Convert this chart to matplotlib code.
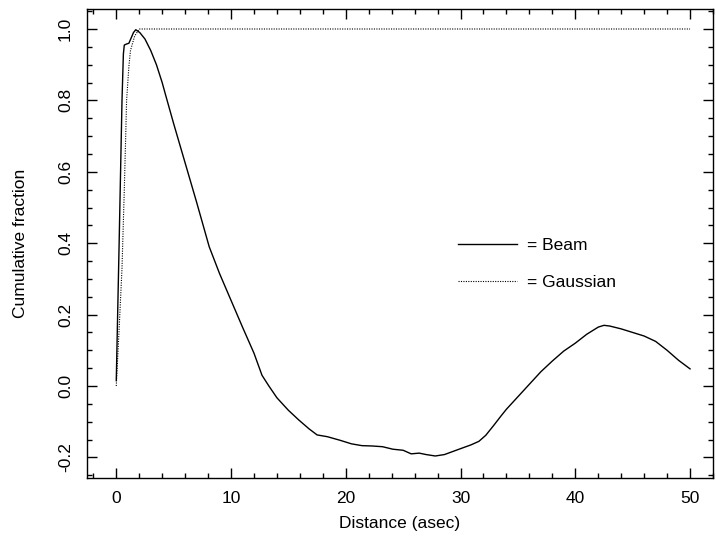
import matplotlib
matplotlib.use("Agg")
import matplotlib.pyplot as plt
from matplotlib.ticker import MultipleLocator

plt.rcParams['font.family'] = ['Liberation Sans', 'DejaVu Sans']

beam_x = [0.0, 0.25, 0.5, 0.62, 0.7, 0.9, 1.1, 1.3, 1.5, 1.7, 2.05, 2.5, 3.0, 3.5, 4.0, 4.3, 5.0,
          6.0, 7.0, 8.1, 9.0, 10.0, 11.0, 12.0, 12.7, 13.3, 14.0, 15.0, 15.9, 16.8, 17.5,
          18.4, 19.5, 20.5, 21.4, 22.3, 23.2, 24.1, 25.0, 25.7, 26.4, 27.0, 27.8, 28.6, 29.7,
          30.9, 31.6, 32.2, 32.9, 33.5, 34.0, 35.0, 36.0, 37.0, 38.0, 39.0, 40.0, 41.0, 42.0, 42.5,
          43.0, 44.0, 45.0, 46.0, 47.0, 48.0, 49.0, 50.0]
beam_y = [0.015, 0.40, 0.80, 0.93, 0.955, 0.958, 0.96, 0.975, 0.99, 0.998, 0.99, 0.972, 0.94, 0.90, 0.85, 0.815, 0.735,
          0.625, 0.515, 0.39, 0.315, 0.24, 0.165, 0.092, 0.03, 0.0, -0.033, -0.068, -0.095, -0.12, -0.137,
          -0.142, -0.152, -0.162, -0.167, -0.168, -0.17, -0.177, -0.18, -0.19, -0.188, -0.192, -0.196, -0.192, -0.179,
          -0.165, -0.155, -0.138, -0.11, -0.085, -0.065, -0.03, 0.005, 0.04, 0.07, 0.098, 0.12, 0.145, 0.165, 0.17,
          0.168, 0.16, 0.15, 0.14, 0.125, 0.1, 0.072, 0.048]

gauss_x = [0.0, 0.25, 0.5, 0.7, 0.83, 0.9, 1.1, 1.24, 1.6, 2.0, 50.0]
gauss_y = [0.0, 0.16, 0.33, 0.55, 0.71, 0.80, 0.895, 0.94, 0.98, 1.0, 1.0]

fig = plt.figure(figsize=(7.16, 5.38), dpi=100)
ax = fig.add_axes([87/716, 1-478.3/538, (713-87)/716, (478.3-9)/538])

ax.plot(beam_x, beam_y, color='black', lw=1.0, label='= Beam')
ax.plot(gauss_x, gauss_y, color='black', lw=0.8, linestyle=(0, (1, 1.2)), label='= Gaussian')

ax.set_xlim(-2.55, 52.0)
ax.set_ylim(-0.2585, 1.056)

ax.xaxis.set_major_locator(MultipleLocator(10))
ax.xaxis.set_minor_locator(MultipleLocator(2))
ax.yaxis.set_major_locator(MultipleLocator(0.2))
ax.yaxis.set_minor_locator(MultipleLocator(0.05))
ax.yaxis.set_major_formatter(matplotlib.ticker.FormatStrFormatter('%.1f'))

ax.tick_params(which='both', direction='in', top=True, right=True, width=1.0, labelsize=12.5)
ax.tick_params(which='major', length=7.2)
ax.tick_params(which='minor', length=3.6)
ax.tick_params(axis='x', pad=9)
ax.tick_params(axis='y', pad=10)
for lab in ax.get_yticklabels():
    lab.set_rotation(90)
    lab.set_va('center')

for s in ax.spines.values():
    s.set_linewidth(1.0)

ax.set_xlabel('Distance (asec)', fontsize=12.5, labelpad=7)
ax.set_ylabel('Cumulative fraction', fontsize=12.5, labelpad=22)

ax.legend(loc='upper left', bbox_to_anchor=(0.593, 0.512), frameon=False,
          handlelength=3.4, handletextpad=0.55, labelspacing=1.25, fontsize=12.5,
          borderaxespad=0, borderpad=0)

fig.savefig('out.png', dpi=100)
